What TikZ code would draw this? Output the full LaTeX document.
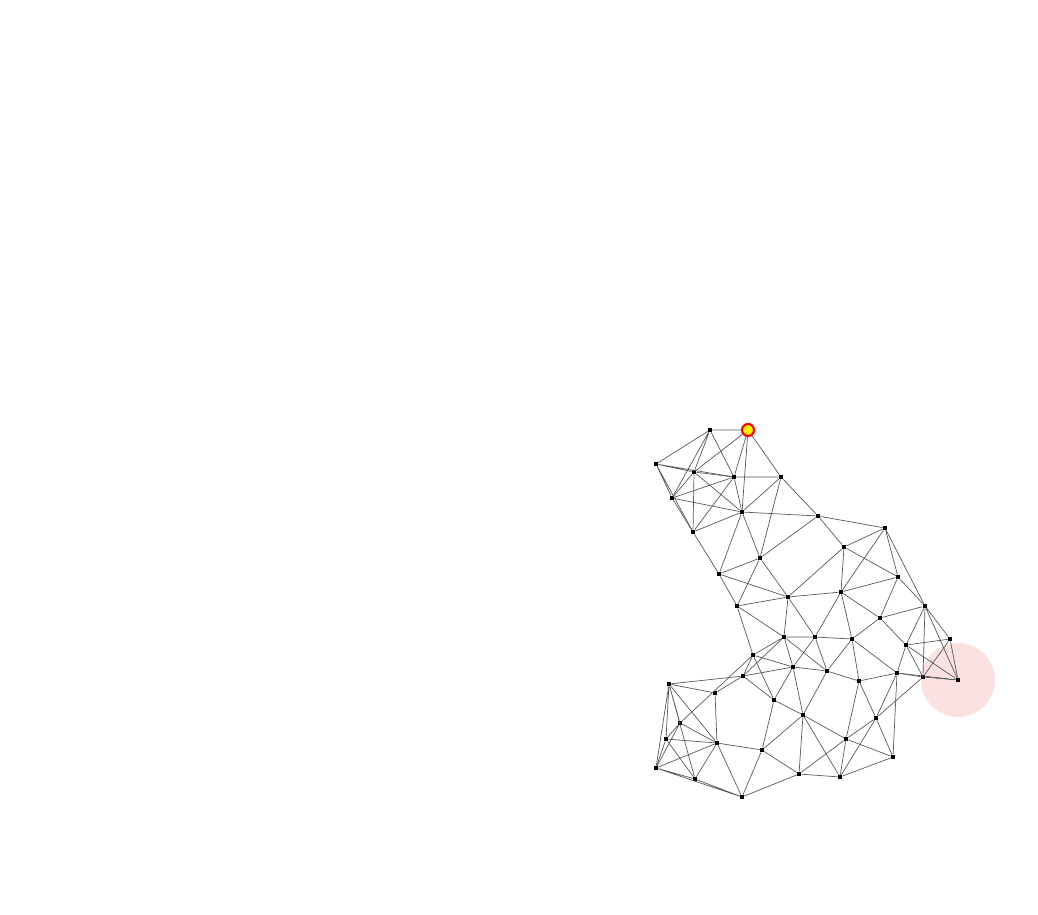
\documentclass[tikz,border=0pt]{standalone}
\usepackage{tikz}
\usepackage{amssymb}
\usepackage{amsmath}

\definecolor{goalpink}{RGB}{251,225,226}

\begin{document}
\begin{tikzpicture}[x=0.02cm,y=-0.02cm,
  vertex/.style={rectangle,fill=black,inner sep=0pt,minimum size=0.08cm},
  start/.style={circle,draw=red,fill=yellow,line width=1.2pt,inner sep=0pt,minimum size=0.24cm},
  link/.style={draw,black!65,line width=0.4pt}]
\useasboundingbox (0,0) rectangle (1038,914);
\coordinate (goal) at (958,680);
\fill[goalpink] (goal) circle [radius=0.74cm];
\node[vertex] (1) at (710,430) {};
\node[start] (2) at (748,430) {};
\node[vertex] (3) at (656,464) {};
\node[vertex] (4) at (694,472) {};
\node[vertex] (5) at (734,477) {};
\node[vertex] (6) at (781,477) {};
\node[vertex] (7) at (672,498) {};
\node[vertex] (8) at (742,512) {};
\node[vertex] (9) at (818,516) {};
\node[vertex] (10) at (885,528) {};
\node[vertex] (11) at (693,532) {};
\node[vertex] (12) at (844,547) {};
\node[vertex] (13) at (760,558) {};
\node[vertex] (14) at (719,574) {};
\node[vertex] (15) at (898,577) {};
\node[vertex] (16) at (841,592) {};
\node[vertex] (17) at (788,597) {};
\node[vertex] (18) at (737,606) {};
\node[vertex] (19) at (925,606) {};
\node[vertex] (20) at (880,618) {};
\node[vertex] (21) at (784,637) {};
\node[vertex] (22) at (815,637) {};
\node[vertex] (23) at (852,639) {};
\node[vertex] (24) at (950,639) {};
\node[vertex] (25) at (906,645) {};
\node[vertex] (26) at (753,655) {};
\node[vertex] (27) at (793,667) {};
\node[vertex] (28) at (827,671) {};
\node[vertex] (29) at (897,673) {};
\node[vertex] (30) at (743,676) {};
\node[vertex] (31) at (923,677) {};
\node[vertex] (32) at (goal) {};
\node[vertex] (33) at (859,681) {};
\node[vertex] (34) at (669,684) {};
\node[vertex] (35) at (715,693) {};
\node[vertex] (36) at (774,700) {};
\node[vertex] (37) at (803,715) {};
\node[vertex] (38) at (876,718) {};
\node[vertex] (39) at (680,723) {};
\node[vertex] (40) at (666,739) {};
\node[vertex] (41) at (846,739) {};
\node[vertex] (42) at (717,743) {};
\node[vertex] (43) at (762,750) {};
\node[vertex] (44) at (893,757) {};
\node[vertex] (45) at (656,768) {};
\node[vertex] (46) at (799,774) {};
\node[vertex] (47) at (840,777) {};
\node[vertex] (48) at (695,779) {};
\node[vertex] (49) at (742,797) {};
% top part
\path[link] (1) -- (2) (1) -- (3) (1) -- (4) (1) -- (7) (1) -- (5);
\path[link] (2) -- (4) (2) -- (5) (2) -- (8) (2) -- (6);
\path[link] (3) -- (4) (3) -- (5) (3) -- (7) (3) -- (11);
\path[link] (4) -- (5) (4) -- (7) (4) -- (8) (4) -- (11);
\path[link] (7) -- (5) (7) -- (8) (7) -- (11);
\path[link] (5) -- (8) (5) -- (11) (5) -- (6);
\path[link] (8) -- (6) (8) -- (11) (8) -- (9) (8) -- (13) (8) -- (14);
\path[link] (6) -- (9) (6) -- (13) (11) -- (14);
% middle part
\path[link] (9) -- (13) (9) -- (12) (9) -- (10);
\path[link] (12) -- (10) (12) -- (15) (12) -- (16) (12) -- (17);
\path[link] (10) -- (16) (10) -- (15) (10) -- (19);
\path[link] (13) -- (14) (13) -- (17) (13) -- (18);
\path[link] (14) -- (17) (14) -- (18);
\path[link] (17) -- (16) (17) -- (18) (17) -- (21) (17) -- (22);
\path[link] (16) -- (15) (16) -- (22) (16) -- (23) (16) -- (20);
\path[link] (15) -- (20) (15) -- (19);
\path[link] (20) -- (19) (20) -- (23) (20) -- (25);
\path[link] (18) -- (21) (18) -- (26);
% right part
\path[link] (19) -- (25) (19) -- (24) (19) -- (31) (19) -- (32);
\path[link] (25) -- (24) (25) -- (31) (25) -- (32) (25) -- (29);
\path[link] (24) -- (31) (24) -- (32);
\path[link] (31) -- (29) (31) -- (32) (31) -- (38);
\path[link] (29) -- (32) (29) -- (33) (29) -- (38) (29) -- (44);
\path[link] (23) -- (29) (23) -- (33) (23) -- (22) (23) -- (28);
\path[link] (33) -- (38) (33) -- (41) (33) -- (28);
\path[link] (38) -- (41) (38) -- (44) (38) -- (47);
\path[link] (41) -- (44) (41) -- (37) (41) -- (46) (41) -- (47);
% lower part
\path[link] (21) -- (22) (21) -- (26) (21) -- (30) (21) -- (27) (21) -- (28);
\path[link] (22) -- (27) (22) -- (28);
\path[link] (26) -- (27) (26) -- (30) (26) -- (36) (26) -- (39);
\path[link] (30) -- (27) (30) -- (36) (30) -- (34) (30) -- (35);
\path[link] (27) -- (28) (27) -- (36) (27) -- (37) (28) -- (37);
\path[link] (36) -- (37) (36) -- (43);
\path[link] (37) -- (43) (37) -- (46) (37) -- (47);
\path[link] (43) -- (46) (43) -- (42) (43) -- (49);
\path[link] (46) -- (47) (46) -- (49) (47) -- (44);
% left part
\path[link] (34) -- (35) (34) -- (39) (34) -- (40) (34) -- (42) (34) -- (45) (34) -- (48);
\path[link] (35) -- (42);
\path[link] (39) -- (40) (39) -- (42) (39) -- (45);
\path[link] (40) -- (42) (40) -- (45) (40) -- (48);
\path[link] (42) -- (45) (42) -- (48) (42) -- (49);
\path[link] (45) -- (48) (45) -- (49) (48) -- (49);
\end{tikzpicture}
\end{document}
